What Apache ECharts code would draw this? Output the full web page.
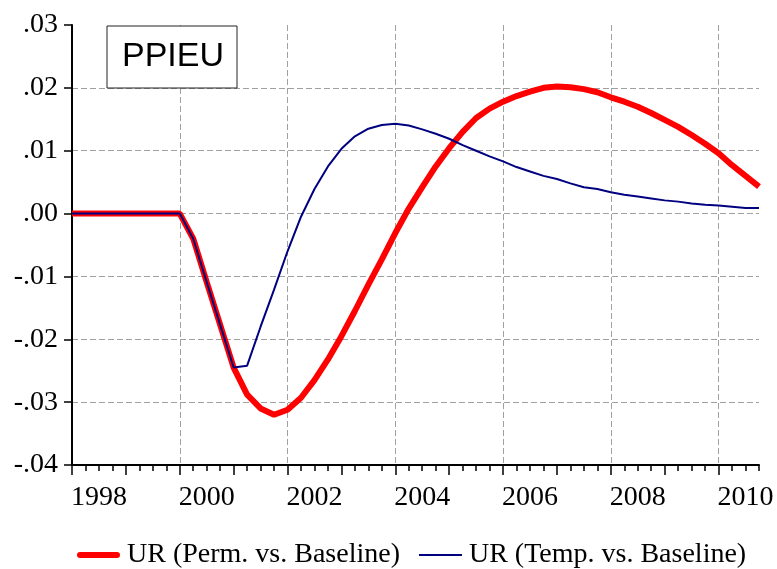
<!DOCTYPE html>
<html>
<head>
<meta charset="utf-8">
<script src="https://cdn.jsdelivr.net/npm/echarts@6/dist/echarts.min.js"></script>
<style>
  html, body { margin: 0; padding: 0; background: #fff; }
  #chart { width: 777px; height: 569px; }
</style>
</head>
<body>
<div id="chart"></div>
<script>
// Quarterly sample, 1998Q1 - 2010Q4
const startYear = 1998;
const endYear = 2010;
const quarters = [];
for (let y = startYear; y <= endYear; y++) {
  for (let q = 1; q <= 4; q++) quarters.push(y + 'Q' + q);
}

// Unemployment rate deviation from baseline, permanent shock
const urPerm = [
  0, 0, 0, 0, 0, 0, 0, 0,
  0, -0.0040, -0.0109, -0.0177, -0.0245, -0.0288, -0.0310, -0.0320,
  -0.0312, -0.0293, -0.0265, -0.0232, -0.0195, -0.0155, -0.0113, -0.0073,
  -0.0031, 0.0008, 0.0042, 0.0075, 0.0104, 0.0130, 0.0152, 0.0167,
  0.0178, 0.0187, 0.0194, 0.0200, 0.0202, 0.0201, 0.0198, 0.0193,
  0.0185, 0.0178, 0.0170, 0.0160, 0.0149, 0.0138, 0.0125, 0.0111,
  0.0096, 0.0077, 0.0060, 0.0043
];

// Unemployment rate deviation from baseline, temporary shock
const urTemp = [
  0, 0, 0, 0, 0, 0, 0, 0,
  0, -0.0040, -0.0109, -0.0177, -0.0245, -0.0242, -0.0180, -0.0121,
  -0.0060, -0.0005, 0.0039, 0.0075, 0.0103, 0.0123, 0.0135, 0.0141,
  0.0143, 0.0140, 0.0134, 0.0127, 0.0119, 0.0109, 0.0100, 0.0091,
  0.0083, 0.0074, 0.0067, 0.0060, 0.0055, 0.0048, 0.0042, 0.0039,
  0.0034, 0.0030, 0.0027, 0.0024, 0.0021, 0.0019, 0.0016, 0.0014,
  0.0013, 0.0011, 0.0009, 0.0009
];

const seriesNames = ['UR (Perm. vs. Baseline)', 'UR (Temp. vs. Baseline)'];
const chartTitle = 'PPIEU';

const yMin = -0.04, yMax = 0.03, yStep = 0.01;

const serif = 'Liberation Serif';
const gridColor = '#a0a0a0';
const permColor = '#ff0000';
const tempColor = '#000080';

function yLabel(v) {
  const n = Math.round(v * 100);
  const s = String(Math.abs(n)).padStart(2, '0');
  return (n < 0 ? '-' : '') + '.' + s;
}

// year of category index i
const yearOf = i => startYear + Math.floor(i / 4);

const chart = echarts.init(document.getElementById('chart'), null, { renderer: 'canvas' });

chart.setOption({
  animation: false,
  backgroundColor: '#fff',
  grid: { left: 72, top: 25, right: 18, bottom: 104, containLabel: false },
  xAxis: [
    {
      type: 'category',
      data: quarters,
      boundaryGap: false,
      axisLine: { show: true, onZero: false, lineStyle: { color: '#000', width: 2 } },
      axisTick: {
        show: true, length: 10, lineStyle: { color: '#000', width: 1.5 },
        interval: i => i % 4 === 0
      },
      axisLabel: {
        show: true,
        interval: i => i % 4 === 2 && yearOf(i) % 2 === 0,
        formatter: (v, i) => String(yearOf(i)),
        fontFamily: serif, fontSize: 28, color: '#000', margin: 19
      },
      splitLine: {
        show: true,
        interval: i => i > 0 && i % 8 === 0,
        lineStyle: { color: gridColor, width: 1, type: [6, 3] }
      }
    },
    {
      type: 'category',
      data: quarters,
      boundaryGap: false,
      position: 'bottom',
      axisLine: { show: false, onZero: false },
      axisTick: { show: true, length: 6, interval: 0, lineStyle: { color: '#000', width: 1.5 } },
      axisLabel: { show: false },
      splitLine: { show: false }
    }
  ],
  yAxis: {
    type: 'value',
    min: yMin, max: yMax, interval: yStep,
    axisLine: { show: true, onZero: false, lineStyle: { color: '#000', width: 2 } },
    axisTick: { show: true, length: 8, lineStyle: { color: '#000', width: 1.5 } },
    axisLabel: {
      formatter: yLabel,
      fontFamily: serif, fontSize: 28, color: '#000', margin: 14
    },
    splitLine: {
      show: true, showMinLine: false, showMaxLine: false,
      lineStyle: { color: gridColor, width: 1, type: [6, 3] }
    }
  },
  legend: {
    left: 77, top: 541, padding: 0,
    itemWidth: 43, itemHeight: 6, itemGap: 19,
    symbolKeepAspect: true,
    textStyle: { fontFamily: serif, fontSize: 28, color: '#000', padding: [0, 0, 0, 2] },
    data: [
      { name: seriesNames[0], icon: 'path://M3,0H40A3,3 0 0 1 40,6H3A3,3 0 0 1 3,0Z', itemStyle: { color: permColor } },
      { name: seriesNames[1], icon: 'path://M0,0H40V2H0Z', itemStyle: { color: tempColor } }
    ]
  },
  graphic: [
    {
      type: 'rect', z: 100,
      shape: { x: 107, y: 26, width: 130, height: 62 },
      style: { fill: '#fff', stroke: '#222', lineWidth: 1 }
    },
    {
      type: 'text', z: 101,
      x: 173, y: 57,
      style: {
        text: chartTitle, fill: '#000',
        font: '34px "Liberation Sans"',
        align: 'center', verticalAlign: 'middle'
      }
    }
  ],
  series: [
    {
      name: seriesNames[0], type: 'line', data: urPerm,
      symbol: 'none', smooth: false, z: 2,
      lineStyle: { color: permColor, width: 6 },
      itemStyle: { color: permColor }
    },
    {
      name: seriesNames[1], type: 'line', data: urTemp,
      symbol: 'none', smooth: false, z: 3,
      lineStyle: { color: tempColor, width: 2 },
      itemStyle: { color: tempColor }
    }
  ]
});
</script>
</body>
</html>
